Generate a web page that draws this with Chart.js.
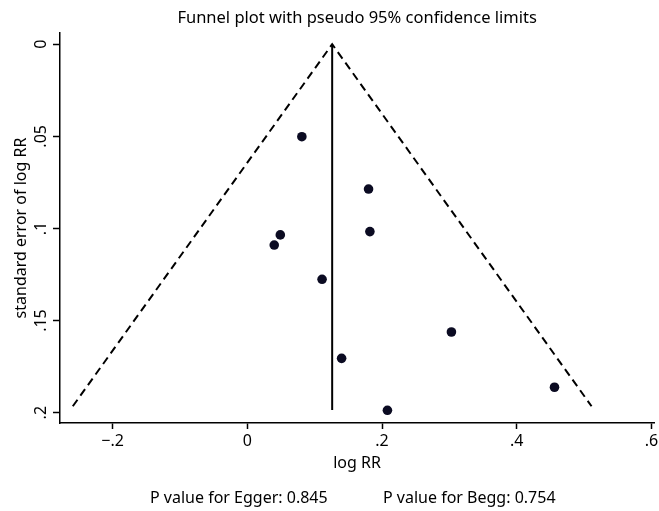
<!DOCTYPE html>
<html>
<head>
<meta charset="utf-8">
<script src="https://cdn.jsdelivr.net/npm/chart.js@4"></script>
<style>
  body { margin: 0; background: #fff; }
</style>
</head>
<body>
<canvas id="funnel" width="659" height="511"></canvas>
<script>
// study estimates
const logRR = [0.081, 0.180, 0.182, 0.049, 0.040, 0.111, 0.303, 0.140, 0.456, 0.208];
const seLogRR = [0.0502, 0.0786, 0.1017, 0.1035, 0.1090, 0.1276, 0.1562, 0.1705, 0.1862, 0.1987];

// pseudo 95% limits (left end, apex, right end) and pooled estimate line
const funnelX = [-0.259, 0.126, 0.511];
const funnelY = [0.1965, 0, 0.1965];
const pooledX = [0.126, 0.126];
const pooledY = [0, 0.1985];

const xTicks = [-0.2, 0, 0.2, 0.4, 0.6];
const yTicks = [0, 0.05, 0.1, 0.15, 0.2];

const titleText = 'Funnel plot with pseudo 95% confidence limits';
const eggerNote = 'P value for Egger: 0.845';
const beggNote = 'P value for Begg: 0.754';

const FONT = '"Noto Sans", "DejaVu Sans", sans-serif';

function stataLabel(v) {
  if (v === 0) return '0';
  const s = String(Math.abs(v)).replace(/^0/, '');
  return (v < 0 ? '\u2212' : '') + s;
}

function toPoints(xs, ys) {
  return xs.map((x, i) => ({x: x, y: ys[i]}));
}

const textPlugin = {
  id: 'texts',
  afterDraw(chart) {
    const ctx = chart.ctx;
    const area = chart.chartArea;
    ctx.save();
    ctx.fillStyle = '#000';
    ctx.textBaseline = 'middle';
    ctx.font = '16.5px ' + FONT;
    ctx.textAlign = 'center';
    ctx.fillText(titleText, (area.left + area.right) / 2, 18);
    ctx.font = '16px ' + FONT;
    ctx.textAlign = 'left';
    ctx.fillText(eggerNote, 150, 498);
    ctx.fillText(beggNote, 383, 498);
    ctx.restore();
  }
};

const axisFont = {family: FONT, size: 16};

new Chart(document.getElementById('funnel'), {
  type: 'scatter',
  data: {
    datasets: [
      {
        label: 'limits',
        data: toPoints(funnelX, funnelY),
        showLine: true,
        borderColor: '#000',
        borderWidth: 2,
        borderDash: [8, 5],
        pointRadius: 0
      },
      {
        label: 'pooled',
        data: toPoints(pooledX, pooledY),
        showLine: true,
        borderColor: '#000',
        borderWidth: 2,
        pointRadius: 0
      },
      {
        label: 'studies',
        data: toPoints(logRR, seLogRR),
        pointRadius: 4.8,
        pointBackgroundColor: '#0b0b22',
        pointBorderWidth: 0
      }
    ]
  },
  options: {
    responsive: false,
    animation: false,
    layout: {padding: {left: 0, right: 2, top: 33, bottom: 38}},
    plugins: {
      legend: {display: false},
      tooltip: {enabled: false}
    },
    scales: {
      x: {
        type: 'linear',
        min: -0.278,
        max: 0.604,
        afterBuildTicks: s => { s.ticks = xTicks.map(v => ({value: v})); },
        afterFit: s => { s.height = 50; s.paddingLeft = 0; s.paddingRight = 0; },
        grid: {drawOnChartArea: false, color: '#000', tickLength: 6, tickWidth: 1.5},
        border: {color: '#000', width: 1.5},
        ticks: {color: '#000', font: axisFont, padding: 3, maxRotation: 0, callback: v => stataLabel(v)},
        title: {display: true, text: 'log RR', color: '#000', font: axisFont, padding: {top: 2, bottom: 0}}
      },
      y: {
        type: 'linear',
        reverse: true,
        min: -0.0061,
        max: 0.2056,
        afterBuildTicks: s => { s.ticks = yTicks.map(v => ({value: v})); },
        afterFit: s => { s.width = 60; s.paddingTop = 0; s.paddingBottom = 0; },
        grid: {drawOnChartArea: false, color: '#000', tickLength: 7, tickWidth: 1.5},
        border: {color: '#000', width: 1.5},
        ticks: {color: '#000', font: axisFont, padding: 0, minRotation: 90, maxRotation: 90, crossAlign: 'center', callback: v => stataLabel(v)},
        title: {display: true, text: 'standard error of log RR', color: '#000', font: axisFont, padding: {top: 12, bottom: 0}}
      }
    }
  },
  plugins: [textPlugin]
});
</script>
</body>
</html>
